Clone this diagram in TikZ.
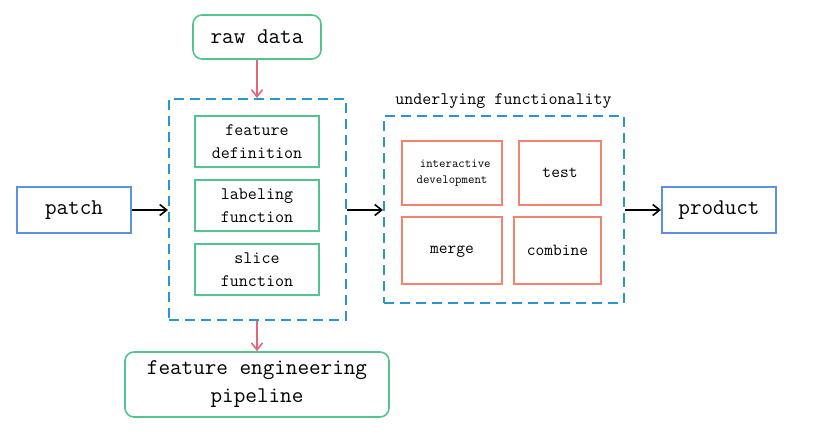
\documentclass[tikz,border=0pt]{standalone}
\usepackage{fontspec}
\usetikzlibrary{arrows.meta}
\definecolor{grn}{RGB}{82,196,140}
\definecolor{dblue}{RGB}{40,150,208}
\definecolor{sblue}{RGB}{90,145,224}
\definecolor{pinkred}{RGB}{232,100,122}
\definecolor{orng}{RGB}{240,132,110}
\tikzset{
  box/.style={draw, line width=2pt, inner sep=0pt, align=center, font=\ttfamily},
  greenround/.style={box, draw=grn, rounded corners=9pt, line width=1.6pt},
  greenbox/.style={box, draw=grn, minimum width=124pt, minimum height=51pt, font=\fontsize{17.5}{23}\ttfamily},
  orangebox/.style={box, draw=orng, font=\fontsize{17}{22}\ttfamily},
  bluebox/.style={box, draw=sblue, minimum width=114pt, minimum height=46pt, font=\fontsize{22.5}{24}\ttfamily},
  container/.style={draw=dblue, line width=2pt, dash pattern=on 10pt off 6pt, inner sep=0pt},
  blackarrow/.style={draw=black, line width=1.6pt, -{Straight Barb[length=7pt,width=11pt]}},
  redarrow/.style={draw=pinkred, line width=1.6pt, -{Straight Barb[length=7pt,width=11pt]}},
}
\begin{document}
\begin{tikzpicture}[x=1pt,y=-1pt]
\useasboundingbox (0,0) rectangle (819,433);
\node[greenround, minimum width=128pt, minimum height=44pt, font=\fontsize{22.5}{24}\ttfamily] (raw) at (257,37) {raw data};
\node[container, minimum width=177pt, minimum height=221pt] (fe) at (257.5,209.5) {};
\node[greenbox] (fd) at (257,141.5) {feature\\definition};
\node[greenbox] (lf) at (257,205.5) {labeling\\function};
\node[greenbox] (sf) at (257,269.5) {slice\\function};
\node[greenround, minimum width=264pt, minimum height=65pt, font=\fontsize{22.5}{28}\ttfamily] (pipe) at (257,384.5) {feature engineering\\pipeline};
\node[bluebox] (patch) at (74,210) {patch};
\node[container, minimum width=240pt, minimum height=187pt] (uf) at (504,209.5) {};
\node[font=\fontsize{17.5}{18}\ttfamily, anchor=base] (uflabel) at (503.5,105) {underlying functionality};
\node[orangebox, minimum width=100pt, minimum height=64pt, font=\fontsize{12.5}{16}\ttfamily] (id) at (452,173) {\ interactive\\development};
\node[orangebox, minimum width=82pt, minimum height=64pt] (test) at (560,173) {test};
\node[orangebox, minimum width=100pt, minimum height=67pt] (merge) at (452,250.5) {merge\vphantom{b}};
\node[orangebox, minimum width=87pt, minimum height=67pt] (comb) at (557.5,250.5) {combine};
\node[bluebox] (prod) at (719,210) {product};
\draw[redarrow] (raw.south) -- (raw.south |- fe.north);
\draw[redarrow] (raw.south |- fe.south) -- (pipe.north);
\draw[blackarrow] (patch.east) -- (fe.west |- patch.east);
\draw[blackarrow] (fe.east |- patch.east) -- (uf.west |- patch.east);
\draw[blackarrow] (uf.east |- prod.west) -- (prod.west);
\end{tikzpicture}
\end{document}
